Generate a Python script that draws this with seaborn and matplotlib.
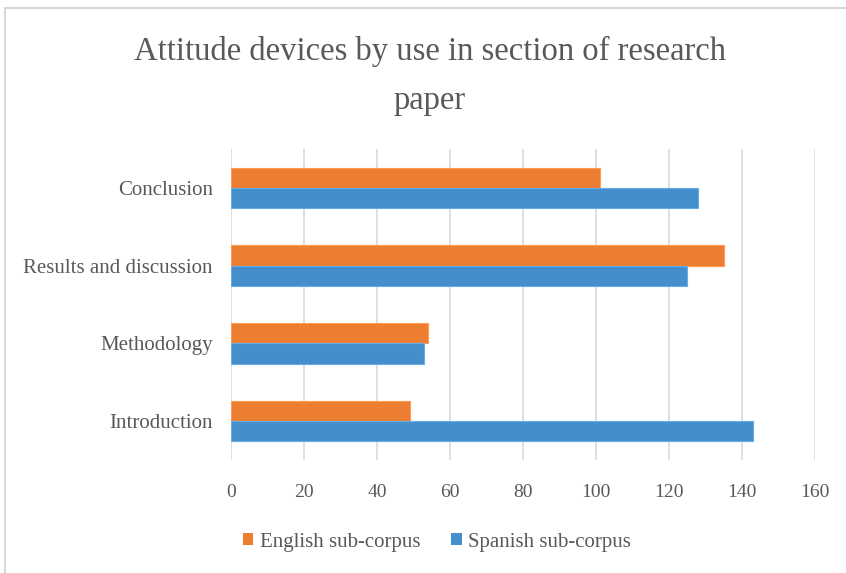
import matplotlib
matplotlib.use("Agg")
import matplotlib.pyplot as plt
import matplotlib.patches as mpatches
import pandas as pd
import seaborn as sns

# Section categories (top to bottom) and counts per sub-corpus
sections = ["Conclusion", "Results and discussion", "Methodology", "Introduction"]
english_counts = [101, 135, 54, 49]
spanish_counts = [128, 125, 53, 143]
series_names = ["English sub-corpus", "Spanish sub-corpus"]
x_ticks = [0, 20, 40, 60, 80, 100, 120, 140, 160]
title_text = "Attitude devices by use in section of research\npaper"

ORANGE = "#ED7D31"
BLUE = "#448FCB"
TEXT = "#595959"
GRID = "#D9D9D9"

sns.set_theme(style="white")
plt.rcParams["font.family"] = ["Liberation Serif", "DejaVu Serif"]

df = pd.DataFrame({
    "section": sections * 2,
    "count": english_counts + spanish_counts,
    "corpus": [series_names[0]] * len(sections) + [series_names[1]] * len(sections),
})

fig = plt.figure(figsize=(8.46, 5.73), dpi=100)
ax = fig.add_axes([231 / 846, 1 - 460 / 573, 584 / 846, 311 / 573])

sns.barplot(
    data=df, y="section", x="count", hue="corpus",
    order=sections, hue_order=series_names,
    palette=[ORANGE, BLUE], saturation=1, orient="h", width=0.52, gap=0,
    errorbar=None, ax=ax, legend=False, zorder=3,
)

# Thin lighter outline on each bar
for patch in ax.patches:
    fc = patch.get_facecolor()
    patch.set_edgecolor((min(fc[0] + 0.12, 1), min(fc[1] + 0.12, 1), min(fc[2] + 0.12, 1), 1))
    patch.set_linewidth(0.8)

ax.set_xlim(0, 160)
ax.set_ylim(len(sections) - 0.5, -0.5)
ax.set_xticks(x_ticks)
ax.set_xticklabels([str(t) for t in x_ticks])
ax.set_xlabel("")
ax.set_ylabel("")
ax.grid(axis="x", color=GRID, linewidth=1.2, zorder=0)
ax.grid(axis="y", visible=False)
for side in ["top", "right", "bottom", "left"]:
    ax.spines[side].set_visible(False)
ax.tick_params(axis="x", length=0, pad=17, labelsize=14, labelcolor=TEXT)
ax.tick_params(axis="y", length=0, pad=13, labelsize=15, labelcolor=TEXT)

# Title
fig.text(430 / 846, 1 - 76 / 573, title_text, ha="center", va="center",
         fontsize=23.5, color=TEXT, linespacing=1.75)

# Legend
handles = [mpatches.Patch(facecolor=c, edgecolor="none") for c in (ORANGE, BLUE)]
fig.legend(handles, series_names, loc="center", ncol=2,
           bbox_to_anchor=(437 / 846, 1 - 542 / 573), frameon=False,
           fontsize=15, labelcolor=TEXT, handlelength=0.5, handleheight=0.5,
           handletextpad=0.3, columnspacing=1.5)

# Chart-area border along the top and left edges
fig.add_artist(mpatches.Rectangle((5 / 846, -0.1), 1.2, 1 - 8 / 573 + 0.1,
                                  transform=fig.transFigure, fill=False,
                                  edgecolor="#D0D0D0", linewidth=1.2))

fig.savefig("out.png", dpi=100, facecolor="white")
